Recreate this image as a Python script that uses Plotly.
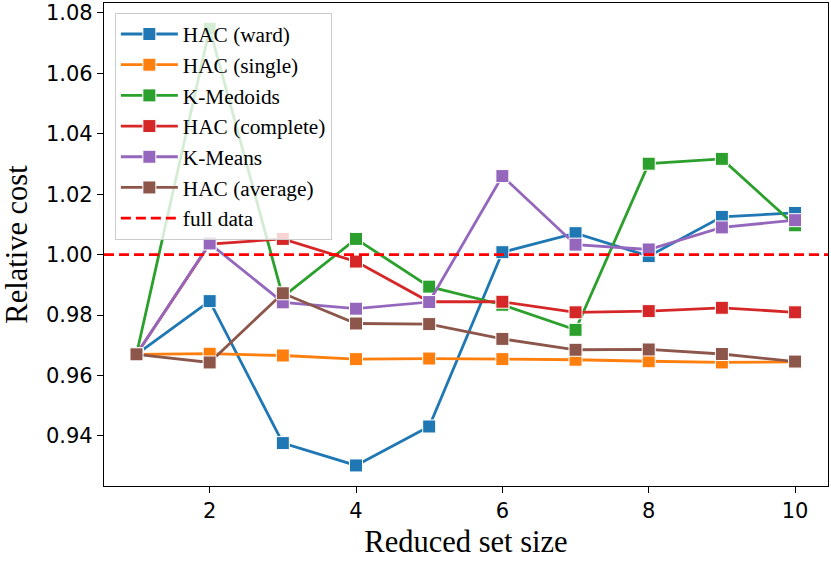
import plotly.graph_objects as go

# reduced set sizes
set_sizes = [1, 2, 3, 4, 5, 6, 7, 8, 9, 10]

# relative cost per method
hac_ward = [0.967, 0.9846, 0.9376, 0.9302, 0.9431, 1.0008, 1.0071, 0.9995, 1.0125, 1.0138]
hac_single = [0.967, 0.9672, 0.9666, 0.9654, 0.9656, 0.9654, 0.9652, 0.9647, 0.9643, 0.9645]
k_medoids = [0.967, 1.0748, 0.9860, 1.0052, 0.9894, 0.9834, 0.9751, 1.0301, 1.0317, 1.0097]
hac_complete = [0.967, 1.0035, 1.0052, 0.9977, 0.9844, 0.9844, 0.9809, 0.9813, 0.9824, 0.9809]
k_means = [0.967, 1.0037, 0.9842, 0.9821, 0.9843, 1.0260, 1.0033, 1.0017, 1.0090, 1.0114]
hac_average = [0.967, 0.9643, 0.9872, 0.9772, 0.9770, 0.9721, 0.9685, 0.9686, 0.9671, 0.9646]
full_data = 1.0

series = [
    ('HAC (ward)', hac_ward, '#1f77b4'),
    ('HAC (single)', hac_single, '#ff7f0e'),
    ('K-Medoids', k_medoids, '#2ca02c'),
    ('HAC (complete)', hac_complete, '#d62728'),
    ('K-Means', k_means, '#9467bd'),
    ('HAC (average)', hac_average, '#8c564b'),
]

serif = 'Liberation Serif, Times New Roman, serif'
sans = 'DejaVu Sans, sans-serif'

fig = go.Figure()
for name, vals, color in series:
    fig.add_trace(go.Scatter(
        x=set_sizes, y=vals, name=name, mode='lines+markers',
        line=dict(color=color, width=2.8),
        marker=dict(symbol='square', size=13, color=color,
                    line=dict(color='white', width=1)),
    ))

# full data reference line
fig.add_hline(y=full_data, line=dict(color='#ff0000', width=2.8, dash='10px,5px'))
fig.add_trace(go.Scatter(
    x=[None], y=[None], name='full data', mode='lines',
    line=dict(color='#ff0000', width=2.8, dash='10px,5px'),
))

axis_common = dict(
    showgrid=False, zeroline=False, showline=True, linecolor='black',
    linewidth=1.3, mirror=True, ticks='outside', ticklen=6, tickwidth=1.3,
    tickcolor='black', automargin=False,
    tickfont=dict(size=21, color='black', family=sans),
)

fig.update_layout(
    width=831, height=563,
    margin=dict(l=104, r=3, t=3, b=77),
    plot_bgcolor='white', paper_bgcolor='white',
    font=dict(family=serif, color='black'),
    showlegend=True,
    xaxis=dict(axis_common, range=[0.556, 10.45], tickvals=[2, 4, 6, 8, 10],
               title=dict(text='Reduced set size', font=dict(size=30.5, family=serif), standoff=8)),
    yaxis=dict(axis_common, range=[0.9234, 1.0833], dtick=0.02, tickformat='.2f',
               title=dict(text='Relative cost', font=dict(size=30.5, family=serif), standoff=14)),
    legend=dict(
        x=0.015, y=0.98, xanchor='left', yanchor='top',
        bgcolor='rgba(255,255,255,0.8)', bordercolor='#cccccc', borderwidth=1,
        font=dict(size=21.3, family=serif, color='black'),
        traceorder='normal', itemwidth=57,
    ),
)

fig.write_html("out.html", config={'displayModeBar': False},
               post_script="document.body.style.margin='0';")
